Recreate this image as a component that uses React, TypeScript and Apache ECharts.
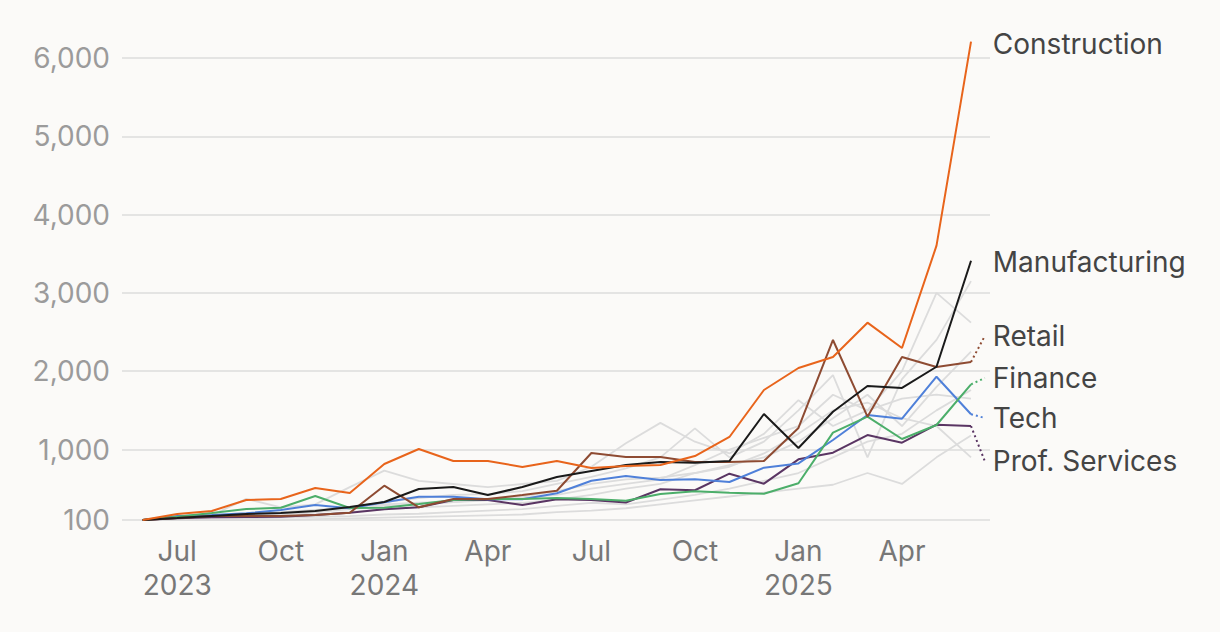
import React, { useEffect, useRef } from 'react';
import * as echarts from 'echarts';

// Monthly observations, Jun 2023 .. Jun 2025 (25 points)
const months = [
  '2023-06', '2023-07', '2023-08', '2023-09', '2023-10', '2023-11', '2023-12',
  '2024-01', '2024-02', '2024-03', '2024-04', '2024-05', '2024-06', '2024-07',
  '2024-08', '2024-09', '2024-10', '2024-11', '2024-12', '2025-01', '2025-02',
  '2025-03', '2025-04', '2025-05', '2025-06',
];

const construction = [100, 177, 215, 355, 368, 509, 445, 815, 1007, 853, 853, 777, 853, 764, 790, 802, 917, 1160, 1760, 2041, 2181, 2620, 2296, 3603, 6208];
const manufacturing = [100, 125, 151, 177, 189, 215, 266, 330, 496, 521, 419, 521, 649, 726, 802, 841, 830, 853, 1454, 1019, 1483, 1811, 1786, 2057, 3411];
const retail = [100, 125, 151, 151, 151, 164, 193, 538, 262, 368, 368, 419, 474, 956, 905, 905, 840, 841, 853, 1275, 2399, 1419, 2181, 2054, 2118];
const finance = [100, 142, 189, 240, 257, 406, 253, 257, 304, 355, 368, 368, 381, 368, 347, 432, 466, 449, 436, 569, 1215, 1419, 1134, 1313, 1833];
const tech = [100, 150, 164, 185, 228, 291, 249, 326, 398, 398, 364, 364, 441, 602, 662, 611, 620, 585, 768, 823, 1122, 1441, 1394, 1930, 1450];
const profServices = [100, 121, 134, 138, 142, 164, 193, 236, 262, 355, 355, 291, 364, 355, 324, 492, 480, 691, 564, 875, 959, 1185, 1087, 1317, 1300];

const greyA = [100, 130, 160, 370, 260, 300, 520, 730, 600, 560, 520, 560, 600, 780, 1080, 1340, 1100, 950, 1200, 1630, 1300, 1500, 2000, 3000, 2620];
const greyB = [100, 110, 120, 140, 160, 200, 260, 330, 380, 420, 430, 470, 560, 650, 760, 900, 1270, 900, 1100, 1500, 1950, 900, 1900, 2400, 3150];
const greyC = [100, 90, 100, 130, 150, 170, 200, 240, 260, 280, 300, 320, 360, 420, 500, 560, 700, 800, 900, 1100, 1400, 1700, 1300, 1800, 2250];
const greyD = [100, 120, 150, 170, 200, 230, 260, 300, 320, 330, 350, 380, 420, 500, 560, 620, 800, 1000, 1150, 1300, 1700, 1500, 1650, 1700, 1650];
const greyE = [100, 100, 110, 120, 130, 140, 150, 170, 180, 200, 220, 240, 280, 320, 300, 360, 420, 500, 600, 700, 900, 1100, 1200, 1500, 1760];
const greyF = [100, 80, 90, 95, 100, 110, 120, 130, 140, 150, 160, 170, 200, 220, 250, 300, 350, 400, 450, 500, 550, 700, 560, 900, 1180];
const greyG = [100, 110, 130, 150, 180, 200, 240, 280, 300, 330, 370, 400, 470, 560, 620, 640, 700, 780, 950, 1200, 1500, 1600, 1400, 1300, 900];

const seriesNames = ['Construction', 'Manufacturing', 'Retail', 'Finance', 'Tech', 'Prof. Services'];
const seriesColors = ['#e8641b', '#1a1a1a', '#8e4b32', '#4cae6a', '#4f80d9', '#5a3563'];
// value at which each label sits (end of the dotted leader)
const labelAnchors = [6178, 3395, 2450, 1913, 1403, 850];
const showLeader = [false, false, true, true, true, true];

const yTicks = [100, 1000, 2000, 3000, 4000, 5000, 6000];
const xTickIdx = [1, 4, 7, 10, 13, 16, 19, 22];
const xTickText = ['Jul\n2023', 'Oct', 'Jan\n2024', 'Apr', 'Jul', 'Oct', 'Jan\n2025', 'Apr'];

const FONT = 'Inter, "Noto Sans", sans-serif';
const FS = 28;

export default function App() {
  const ref = useRef<HTMLDivElement>(null);

  useEffect(() => {
    document.body.style.margin = '0';
    document.body.style.background = '#fbfaf8';
    const chart = echarts.init(ref.current!, null, { renderer: 'svg' });

    const toPairs = (arr: number[]) => arr.map((v, i) => [i, v]);
    const greys = [greyA, greyB, greyC, greyD, greyE, greyF, greyG];
    const highlighted = [construction, manufacturing, retail, finance, tech, profServices];
    const last = months.length - 1;

    const series: any[] = [];
    greys.forEach((g, k) => {
      series.push({
        type: 'line',
        name: 'other' + k,
        data: toPairs(g),
        symbol: 'none',
        silent: true,
        lineStyle: { color: '#dcdcdc', width: 1.8 },
        z: 1,
      });
    });
    // draw in reverse so Construction is on top
    for (let k = highlighted.length - 1; k >= 0; k--) {
      series.push({
        type: 'line',
        name: seriesNames[k],
        data: toPairs(highlighted[k]),
        symbol: 'none',
        lineStyle: { color: seriesColors[k], width: 2 },
        z: 3 + (highlighted.length - k),
      });
      series.push({
        type: 'line',
        name: seriesNames[k] + '-leader',
        data: [
          [last, highlighted[k][last]],
          [last + 0.4, labelAnchors[k]],
        ],
        symbol: 'none',
        lineStyle: {
          color: seriesColors[k],
          width: 2,
          type: [2, 3],
          opacity: showLeader[k] ? 1 : 0,
        },
        endLabel: {
          show: true,
          formatter: () => seriesNames[k],
          color: '#444444',
          fontSize: FS,
          fontFamily: FONT,
          distance: 8,
        },
        z: 3,
      });
    }

    chart.setOption({
      animation: false,
      backgroundColor: '#fbfaf8',
      grid: { left: 122, right: 230, top: 34.5, bottom: 112, containLabel: false },
      xAxis: {
        type: 'value',
        min: -0.6,
        max: last + 0.55,
        axisLine: { show: false },
        axisTick: { show: false },
        splitLine: { show: false },
        axisLabel: {
          customValues: xTickIdx,
          formatter: (v: number) => {
            const i = xTickIdx.indexOf(Math.round(v));
            return i >= 0 ? xTickText[i] : '';
          },
          color: '#777777',
          fontSize: FS,
          fontFamily: FONT,
          lineHeight: 34,
          margin: 14,
        },
      },
      yAxis: {
        type: 'value',
        min: 100,
        max: 6300,
        axisLine: { show: false },
        axisTick: { show: false, customValues: yTicks },
        splitLine: { show: true, lineStyle: { color: '#dcdcdc', width: 1.5 } },
        axisLabel: {
          customValues: yTicks,
          formatter: (v: number) => v.toLocaleString('en-US'),
          color: '#9b9b9b',
          fontSize: FS,
          fontFamily: FONT,
          margin: 12,
        },
      },
      series,
    });

    return () => chart.dispose();
  }, []);

  return (
    <div
      ref={ref}
      style={{ position: 'absolute', left: 0, top: 0, width: 1220, height: 632, background: '#fbfaf8' }}
    />
  );
}
